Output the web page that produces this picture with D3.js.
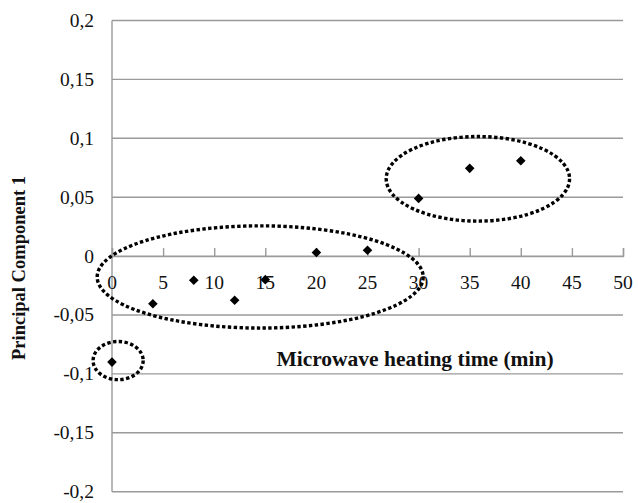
<!DOCTYPE html>
<html>
<head>
<meta charset="utf-8">
<script src="https://cdn.jsdelivr.net/npm/d3@7"></script>
<style>
  body { margin: 0; background: #fff; }
  svg text { font-family: "Liberation Serif", "Times New Roman", serif; fill: #111; }
</style>
</head>
<body>
<div class="chart"></div>
<script>
// microwave heating time (min) vs PC1 score
const times = [0, 4, 8, 12, 15, 20, 25, 30, 35, 40];
const pc1 = [-0.09, -0.0405, -0.0205, -0.0375, -0.02, 0.003, 0.005, 0.049, 0.0745, 0.081];

const xTicks = [0, 5, 10, 15, 20, 25, 30, 35, 40, 45, 50];
const yTicks = [-0.2, -0.15, -0.1, -0.05, 0, 0.05, 0.1, 0.15, 0.2];

// group outlines, in data units: [cx, cy, rx, ry]
const groups = [
  [0.6, -0.0887, 2.45, 0.0162],
  [14.5, -0.0177, 15.95, 0.0434],
  [35.8, 0.0656, 8.97, 0.0359],
];

const width = 638;
const height = 503;
const margin = { left: 112, right: 15, top: 20.5, bottom: 11.3 };

const svg = d3
  .select(".chart")
  .append("svg")
  .attr("width", width)
  .attr("height", height);

const x = d3
  .scaleLinear()
  .domain([0, 50])
  .range([margin.left, width - margin.right]);

const y = d3
  .scaleLinear()
  .domain([-0.2, 0.2])
  .range([height - margin.bottom, margin.top]);

const fmt = (d) => String(+d.toFixed(2)).replace(".", ",");

// horizontal grid
svg
  .append("g")
  .selectAll("line")
  .data(yTicks)
  .enter()
  .append("line")
  .attr("x1", margin.left)
  .attr("x2", width - margin.right)
  .attr("y1", (d) => y(d))
  .attr("y2", (d) => y(d))
  .attr("stroke", "#9a9a9a")
  .attr("stroke-width", 1.4);

// left axis line
svg
  .append("line")
  .attr("x1", margin.left)
  .attr("x2", margin.left)
  .attr("y1", y(0.2))
  .attr("y2", y(-0.2))
  .attr("stroke", "#9a9a9a")
  .attr("stroke-width", 1.4);

// y tick labels
svg
  .append("g")
  .selectAll("text")
  .data(yTicks)
  .enter()
  .append("text")
  .attr("x", margin.left - 18)
  .attr("y", (d) => y(d))
  .attr("dy", "0.33em")
  .attr("text-anchor", "end")
  .style("font-size", "19.5px")
  .text(fmt);

// x axis at y = 0, ticks pointing up
const xAxis = svg
  .append("g")
  .attr("transform", `translate(0,${y(0)})`)
  .call(d3.axisTop(x).tickValues(xTicks).tickSize(8).tickFormat(""));
xAxis.select(".domain").attr("stroke", "#9a9a9a").attr("stroke-width", 1.4);
xAxis.selectAll(".tick line").attr("stroke", "#9a9a9a").attr("stroke-width", 1.4);

// x tick labels below the axis
svg
  .append("g")
  .selectAll("text")
  .data(xTicks)
  .enter()
  .append("text")
  .attr("x", (d) => x(d))
  .attr("y", y(0) + 33)
  .attr("text-anchor", "middle")
  .style("font-size", "19.5px")
  .text((d) => d);

// dotted group ellipses
svg
  .append("g")
  .selectAll("ellipse")
  .data(groups)
  .enter()
  .append("ellipse")
  .attr("cx", (d) => x(d[0]))
  .attr("cy", (d) => y(d[1]))
  .attr("rx", (d) => x(d[2]) - x(0))
  .attr("ry", (d) => y(0) - y(d[3]))
  .attr("fill", "none")
  .attr("stroke", "#000")
  .attr("stroke-width", 3.4)
  .attr("stroke-dasharray", "3.4,2.4");

// diamonds
const diamond = d3.symbol().type(d3.symbolSquare).size(46);
svg
  .append("g")
  .selectAll("path")
  .data(times)
  .enter()
  .append("path")
  .attr("d", diamond)
  .attr("transform", (d, i) => `translate(${x(d)},${y(pc1[i])}) rotate(45)`)
  .attr("fill", "#000");

// axis titles
svg
  .append("text")
  .attr("x", 415)
  .attr("y", 366)
  .attr("text-anchor", "middle")
  .style("font-size", "21.5px")
  .style("font-weight", "bold")
  .text("Microwave heating time (min)");

svg
  .append("text")
  .attr("transform", "translate(25,268) rotate(-90)")
  .attr("text-anchor", "middle")
  .style("font-size", "18.5px")
  .style("font-weight", "bold")
  .text("Principal Component 1");
</script>
</body>
</html>
